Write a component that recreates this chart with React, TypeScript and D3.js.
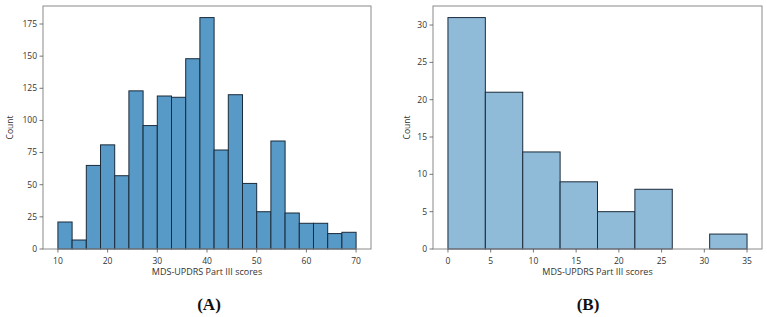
import React from "react";
import * as d3 from "d3";

// Panel A: 21 equal-width bins spanning 10–70
const countsA = [21, 7, 65, 81, 57, 123, 96, 119, 118, 148, 180, 77, 120, 51, 29, 84, 28, 20, 20, 12, 13];
const rangeA: [number, number] = [10, 70];
const xTicksA = [10, 20, 30, 40, 50, 60, 70];
const yTicksA = [0, 25, 50, 75, 100, 125, 150, 175];

// Panel B: 8 equal-width bins spanning 0–35
const countsB = [31, 21, 13, 9, 5, 8, 0, 2];
const rangeB: [number, number] = [0, 35];
const xTicksB = [0, 5, 10, 15, 20, 25, 30, 35];
const yTicksB = [0, 5, 10, 15, 20, 25, 30];

const xTitle = "MDS-UPDRS Part III scores";
const yTitle = "Count";

const W = 767;
const H = 317;
const FONT = "'Open Sans', 'DejaVu Sans', sans-serif";

type PanelProps = {
  counts: number[];
  range: [number, number];
  xTicks: number[];
  yTicks: number[];
  left: number;
  right: number;
  top: number;
  bottom: number;
  fill: string;
  label: string;
  labelX: number;
  yTitleX: number;
};

function Histogram(p: PanelProps) {
  const [lo, hi] = p.range;
  const pad = (hi - lo) * 0.05;
  const x = d3.scaleLinear().domain([lo - pad, hi + pad]).range([p.left, p.right]);
  const yMax = (d3.max(p.counts) ?? 0) * 1.05;
  const y = d3.scaleLinear().domain([0, yMax]).range([p.bottom, p.top]);
  const binW = (hi - lo) / p.counts.length;
  const bins = p.counts.map((c, i) => ({ x0: lo + i * binW, x1: lo + (i + 1) * binW, c }));
  const cx = (p.left + p.right) / 2;
  const cy = (p.top + p.bottom) / 2;

  return (
    <g>
      <rect x={p.left} y={p.top} width={p.right - p.left} height={p.bottom - p.top} fill="#fff" />
      {bins
        .filter((b) => b.c > 0)
        .map((b, i) => (
          <rect
            key={i}
            x={x(b.x0)}
            y={y(b.c)}
            width={x(b.x1) - x(b.x0)}
            height={y(0) - y(b.c)}
            fill={p.fill}
            stroke="#1b2b3b"
            strokeWidth={1}
          />
        ))}
      <rect
        x={p.left}
        y={p.top}
        width={p.right - p.left}
        height={p.bottom - p.top}
        fill="none"
        stroke="#8a8a8a"
        strokeWidth={1}
      />
      {p.xTicks.map((t) => (
        <g key={"x" + t}>
          <line x1={x(t)} x2={x(t)} y1={p.bottom} y2={p.bottom + 3.5} stroke="#555" strokeWidth={0.8} />
          <text x={x(t)} y={p.bottom + 14.5} textAnchor="middle" fontSize={8.5} fill="#333" fontFamily={FONT}>
            {t}
          </text>
        </g>
      ))}
      {p.yTicks.map((t) => (
        <g key={"y" + t}>
          <line x1={p.left - 3.5} x2={p.left} y1={y(t)} y2={y(t)} stroke="#555" strokeWidth={0.8} />
          <text
            x={p.left - 6}
            y={y(t)}
            dy="0.34em"
            textAnchor="end"
            fontSize={8.5}
            fill="#333"
            fontFamily={FONT}
          >
            {t}
          </text>
        </g>
      ))}
      <text x={cx} y={p.bottom + 26} textAnchor="middle" fontSize={9} fill="#333" fontFamily={FONT}>
        {xTitle}
      </text>
      <text
        transform={`translate(${p.yTitleX},${cy}) rotate(-90)`}
        textAnchor="middle"
        dy="0.34em"
        fontSize={8.5}
        fill="#333"
        fontFamily={FONT}
      >
        {yTitle}
      </text>
      <text
        x={p.labelX}
        y={310}
        textAnchor="middle"
        fontSize={17}
        fontWeight="bold"
        fill="#111"
        fontFamily="'Liberation Serif', 'Times New Roman', serif"
      >
        {p.label}
      </text>
    </g>
  );
}

export default function App() {
  return (
    <svg width={W} height={H} style={{ display: "block", position: "absolute", left: 0, top: 0 }}>
      <rect width={W} height={H} fill="#fff" />
      <Histogram
        counts={countsA}
        range={rangeA}
        xTicks={xTicksA}
        yTicks={yTicksA}
        left={43}
        right={371}
        top={6}
        bottom={249}
        fill="#5799c7"
        label="(A)"
        labelX={209}
        yTitleX={10}
      />
      <Histogram
        counts={countsB}
        range={rangeB}
        xTicks={xTicksB}
        yTicks={yTicksB}
        left={433}
        right={762}
        top={6}
        bottom={249}
        fill="#8fbbd9"
        label="(B)"
        labelX={588}
        yTitleX={407}
      />
    </svg>
  );
}
